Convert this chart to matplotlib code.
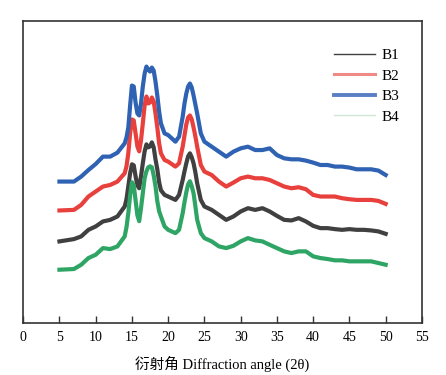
import numpy as np
import matplotlib
matplotlib.use("Agg")
import matplotlib.pyplot as plt
from matplotlib.lines import Line2D

plt.rcParams['font.family'] = ['Liberation Serif', 'Noto Sans CJK SC', 'DejaVu Sans']

# diffraction angle (2theta)
two_theta = [5, 7, 8, 9, 10, 11, 12, 13, 14,
             14.25, 14.5, 14.75, 15, 15.25, 15.5, 15.75, 16, 16.25, 16.5,
             16.75, 17, 17.25, 17.5, 17.75, 18, 18.25, 18.5, 18.75, 19,
             19.5, 20, 21, 21.5,
             22, 22.25, 22.5, 22.75, 23, 23.25, 23.5, 23.75, 24,
             24.5, 25,
             26, 27, 28, 29, 30, 31, 32, 33, 34, 35, 36, 37, 38, 39, 40,
             41, 42, 43, 44, 45, 46, 47, 48, 49, 50]

# stacked intensities (a.u., offsets included)
b1 = [81.7, 84, 86.7, 93.3, 96.7, 101.7, 103.3, 106.7, 116.7,
      124, 137, 150, 159, 158, 147, 138, 135, 147, 160,
      172, 179, 176, 177, 181, 176, 164, 154, 141, 133,
      128.3, 126.7, 123.3, 128.3,
      143.3, 152, 160, 167, 170, 166, 160, 151, 140,
      123.3, 116.7,
      113.3, 108.3, 103.3, 106.7, 111.7, 115, 113.3, 115, 111.7, 107.3, 103.3, 102.7, 105, 101.7, 97.3,
      95, 95, 94, 93.3, 94, 93.3, 93.3, 92.7, 91.7, 89.3]
b2 = [112.7, 113.3, 118.3, 126.7, 131.7, 136.7, 138.3, 141.7, 150,
      157, 170, 190, 204, 203, 190, 177, 172, 183, 200,
      218, 227, 220, 221, 226, 222, 210, 196, 180, 170,
      163.3, 161.7, 156.7, 160,
      176.7, 188, 199, 206, 208, 204, 196, 187, 176.7,
      158.3, 151.7,
      148.3, 141.7, 136.7, 140.7, 145, 146.7, 145, 145, 143.3, 140, 136.7, 135, 136, 134, 128.3,
      126.7, 126.7, 126.7, 125, 124, 123.3, 123.3, 123.3, 122.3, 119.3]
b3 = [141.7, 141.7, 146.7, 153.3, 159.3, 166.7, 166.7, 170.7, 180,
      186, 196, 218, 238, 237, 221, 210, 208, 220, 237,
      250, 257, 254, 252, 256, 253, 242, 228, 212, 200,
      190, 188.3, 181.7, 186.7,
      206.7, 220, 230, 237, 240, 236, 228, 219, 210,
      190, 181.7,
      176.7, 171.7, 166.7, 171.7, 175, 176.7, 173.3, 173.3, 175, 168.3, 165, 164, 164, 162.7, 160.7,
      158.3, 158.3, 156.7, 156.7, 155.7, 154, 154, 154, 152.7, 148.3]
b4 = [53.3, 54, 58.3, 65, 68.3, 75, 74, 76.7, 86.7,
      96, 110, 128, 141, 138, 123, 108, 102, 115, 130,
      145, 152, 156, 157, 156, 148, 137, 122, 112, 106.7,
      96.7, 93.3, 90, 93.3,
      110, 121, 131, 139, 142, 137, 130, 117, 103.3,
      90, 85,
      81.7, 76.7, 75, 77.3, 81.7, 85, 82.7, 81.7, 78.3, 75, 71.7, 70, 71.7, 71.7, 66.7,
      65, 64, 62.7, 62.7, 61.7, 61.7, 61.7, 61.7, 60, 58.3]

names = ['B1', 'B2', 'B3', 'B4']
colors = ['#404040', '#e8403c', '#2f62b3', '#2fa565']

fig = plt.figure(figsize=(4.46, 3.75), dpi=100)
ax = fig.add_axes([0.052, 0.139, 0.894, 0.805])

for y, c in zip([b1, b2, b3, b4], colors):
    ax.plot(two_theta, y, color=c, linewidth=3, solid_joinstyle='round')

ax.set_xlim(0, 55)
ax.set_ylim(0, 302.7)
ax.set_xticks(np.arange(0, 56, 5))
ax.set_yticks([])
ax.tick_params(axis='x', direction='in', length=5, width=1, color='#333333',
               labelsize=10, pad=6)
for s in ax.spines.values():
    s.set_color('#333333')
    s.set_linewidth(1.2)
ax.set_xlabel('衍射角 Diffraction angle (2θ)', fontsize=10.5, labelpad=8)

# legend proxies, styled like the original
handles = [Line2D([], [], color='#404040', lw=1),
           Line2D([], [], color='#f08a86', lw=2.2),
           Line2D([], [], color='#5b7fc4', lw=2.8),
           Line2D([], [], color='#cfe8d6', lw=1)]
ax.legend(handles, names, loc='upper right', bbox_to_anchor=(0.978, 0.955),
          frameon=False, fontsize=11, handlelength=2.7, handletextpad=0.45,
          labelspacing=0.45)

fig.savefig('out.png', dpi=100)
